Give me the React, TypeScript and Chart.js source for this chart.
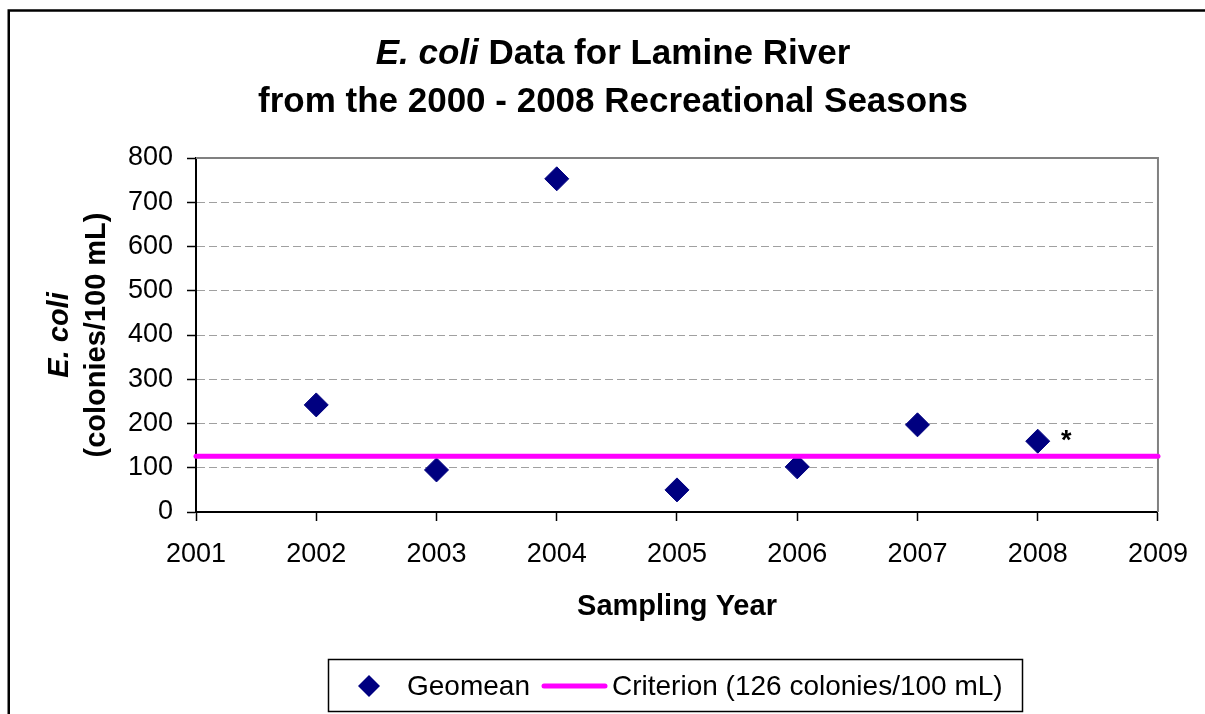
import React, { useEffect, useRef } from "react";
import { Chart, registerables } from "chart.js";
Chart.register(...registerables);

// ---- data ----
const years = [2002, 2003, 2004, 2005, 2006, 2007, 2008];
const geomean = [242, 95, 753, 50, 102, 197, 160];
const criterionYears = [2001, 2009];
const criterionValue = 126;
const xRange = [2001, 2009];
const yRange = [0, 800];
const yStep = 100;
const seriesLabels = ["Geomean", "Criterion (126 colonies/100 mL)"];
const notes = [{ x: 2008, y: 160, text: "*" }];

// ---- text ----
const titleLine1Italic = "E. coli";
const titleLine1Rest = " Data for Lamine River";
const titleLine2 = "from the 2000 - 2008 Recreational Seasons";
const xTitle = "Sampling Year";
const yTitle1 = "E. coli";
const yTitle2 = "(colonies/100 mL)";

const FONT = '"Liberation Sans", Arial, Helvetica, sans-serif';

const decorPlugin = {
  id: "decor",
  beforeDraw(chart: any) {
    const ctx = chart.ctx;
    ctx.save();
    ctx.strokeStyle = "#000";
    ctx.lineWidth = 2.5;
    ctx.beginPath();
    ctx.moveTo(8.75, 800);
    ctx.lineTo(8.75, 10.5);
    ctx.lineTo(1300, 10.5);
    ctx.stroke();
    ctx.restore();
  },
  beforeDatasetsDraw(chart: any) {
    const { ctx, chartArea: a } = chart;
    ctx.save();
    ctx.strokeStyle = "#808080";
    ctx.lineWidth = 2;
    ctx.beginPath();
    ctx.moveTo(a.left, a.top);
    ctx.lineTo(a.right, a.top);
    ctx.lineTo(a.right, a.bottom);
    ctx.stroke();
    ctx.restore();
  },
  afterDraw(chart: any) {
    const { ctx, chartArea: a } = chart;
    const xs = chart.scales.x;
    const ys = chart.scales.y;
    ctx.save();
    ctx.fillStyle = "#000";
    ctx.textBaseline = "alphabetic";

    // Title line 1 (mixed italic)
    const cx = 613;
    ctx.font = `italic bold 35px ${FONT}`;
    const w1 = ctx.measureText(titleLine1Italic).width;
    ctx.font = `bold 35px ${FONT}`;
    const w2 = ctx.measureText(titleLine1Rest).width;
    const sx = cx - (w1 + w2) / 2;
    ctx.textAlign = "left";
    ctx.font = `italic bold 35px ${FONT}`;
    ctx.fillText(titleLine1Italic, sx, 64);
    ctx.font = `bold 35px ${FONT}`;
    ctx.fillText(titleLine1Rest, sx + w1, 64);
    // Title line 2
    ctx.textAlign = "center";
    ctx.fillText(titleLine2, cx, 112);

    // X axis title
    ctx.font = `bold 29px ${FONT}`;
    ctx.fillText(xTitle, (a.left + a.right) / 2, 615);

    // Y axis title
    const cy = (a.top + a.bottom) / 2;
    ctx.save();
    ctx.translate(60, cy);
    ctx.rotate(-Math.PI / 2);
    ctx.textBaseline = "middle";
    ctx.font = `italic bold 29px ${FONT}`;
    ctx.fillText(yTitle1, 0, 0);
    ctx.restore();
    ctx.save();
    ctx.translate(97, cy);
    ctx.rotate(-Math.PI / 2);
    ctx.textBaseline = "middle";
    ctx.font = `bold 29px ${FONT}`;
    ctx.fillText(yTitle2, 0, 0);
    ctx.restore();

    // Notes (asterisk)
    ctx.font = `bold 27px ${FONT}`;
    ctx.textAlign = "center";
    notes.forEach((n) => {
      const px = xs.getPixelForValue(n.x);
      const py = ys.getPixelForValue(n.y);
      ctx.fillText(n.text, px + 28.5, py + 8);
    });

    // Legend
    const ds0 = chart.data.datasets[0];
    const ds1 = chart.data.datasets[1];
    ctx.strokeStyle = "#000";
    ctx.lineWidth = 1.5;
    ctx.strokeRect(328.5, 659.5, 694, 52);
    const ly = 686;
    ctx.fillStyle = ds0.backgroundColor;
    ctx.beginPath();
    ctx.moveTo(358, ly);
    ctx.lineTo(369, ly - 11);
    ctx.lineTo(380, ly);
    ctx.lineTo(369, ly + 11);
    ctx.closePath();
    ctx.fill();
    ctx.fillStyle = "#000";
    ctx.font = `28px ${FONT}`;
    ctx.textAlign = "left";
    ctx.textBaseline = "middle";
    ctx.fillText(ds0.label, 407, ly + 1);
    ctx.strokeStyle = ds1.borderColor;
    ctx.lineWidth = 5;
    ctx.lineCap = "round";
    ctx.beginPath();
    ctx.moveTo(544, ly);
    ctx.lineTo(605, ly);
    ctx.stroke();
    ctx.fillText(ds1.label, 612, ly + 1);
    ctx.restore();
  },
};

export default function App() {
  const ref = useRef<HTMLCanvasElement>(null);
  useEffect(() => {
    document.body.style.margin = "0";
    document.body.style.overflow = "hidden";
    const canvas = ref.current!;
    const chart = new Chart(canvas, {
      type: "scatter",
      data: {
        datasets: [
          {
            type: "scatter",
            label: seriesLabels[0],
            data: years.map((y, i) => ({ x: y, y: geomean[i] })),
            pointStyle: "rectRot",
            pointRadius: 12,
            pointHoverRadius: 12,
            backgroundColor: "#000080",
            borderColor: "#000080",
            borderWidth: 1,
            order: 1,
          },
          {
            type: "line",
            label: seriesLabels[1],
            data: criterionYears.map((y) => ({ x: y, y: criterionValue })),
            borderColor: "#FF00FF",
            backgroundColor: "#FF00FF",
            borderWidth: 5,
            borderCapStyle: "round",
            pointRadius: 0,
            fill: false,
            clip: false,
            order: 0,
          } as any,
        ],
      },
      options: {
        responsive: false,
        animation: false,
        devicePixelRatio: 1,
        layout: { padding: { left: 0, right: 46, top: 158, bottom: 0 } },
        plugins: {
          legend: { display: false },
          title: { display: false },
          tooltip: { enabled: false },
        },
        scales: {
          x: {
            type: "linear",
            min: xRange[0],
            max: xRange[1],
            afterFit: (s: any) => {
              s.height = 202;
            },
            ticks: {
              stepSize: 1,
              callback: (v: any) => String(v),
              color: "#000",
              font: { family: FONT, size: 27 },
              padding: 17,
              maxRotation: 0,
            },
            grid: {
              drawOnChartArea: false,
              drawTicks: true,
              tickLength: 9,
              tickColor: "#000",
              tickWidth: 1.5,
            },
            border: { color: "#000", width: 2 },
          },
          y: {
            min: yRange[0],
            max: yRange[1],
            afterFit: (s: any) => {
              s.width = 196;
            },
            ticks: {
              stepSize: yStep,
              color: "#000",
              font: { family: FONT, size: 27 },
              padding: 14,
            },
            grid: {
              color: (c: any) =>
                c.tick && (c.tick.value === yRange[0] || c.tick.value === yRange[1])
                  ? "rgba(0,0,0,0)"
                  : "#a0a0a0",
              lineWidth: 1,
              tickLength: 9,
              tickColor: "#000",
              tickWidth: 1.5,
              tickBorderDash: [],
            },
            border: { color: "#000", width: 2, dash: [8, 4] },
          },
        },
      },
      plugins: [decorPlugin],
    });
    return () => chart.destroy();
  }, []);
  return (
    <div style={{ width: 1205, height: 714, overflow: "hidden" }}>
      <canvas
        ref={ref}
        width={1205}
        height={714}
        style={{ display: "block" }}
      />
    </div>
  );
}
